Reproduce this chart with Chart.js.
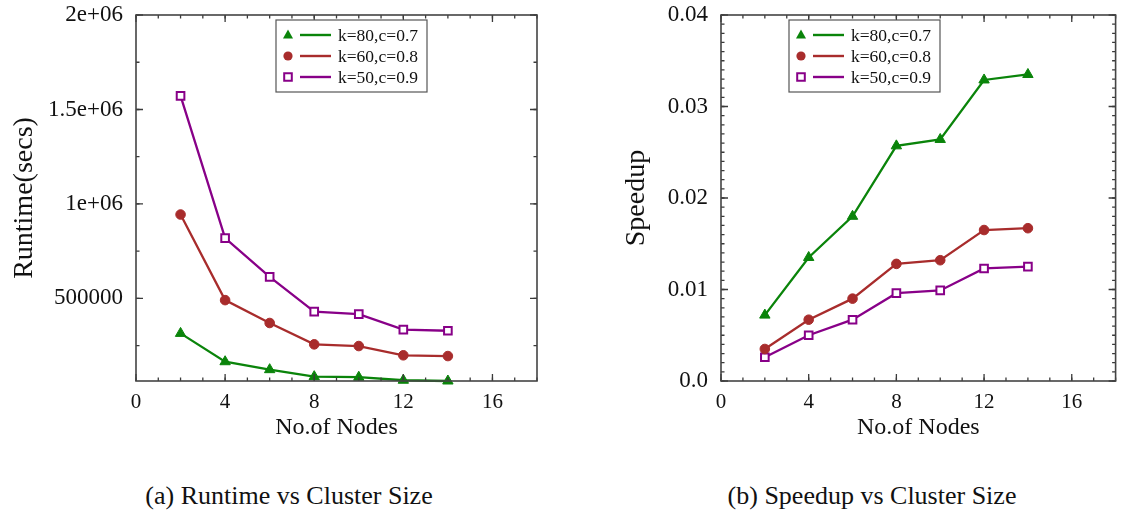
<!DOCTYPE html>
<html>
<head>
<meta charset="utf-8">
<script src="https://cdn.jsdelivr.net/npm/chart.js@4/dist/chart.umd.min.js"></script>
<style>
html, body { margin: 0; padding: 0; background: #fff; }
#page { position: relative; width: 1123px; height: 516px; overflow: hidden; }
.box { position: absolute; top: 0; height: 450px; }
.cap { position: absolute; top: 481px; font: 26px "Liberation Serif", "DejaVu Serif", serif; color: #111; white-space: nowrap; transform: translateX(-50%); }
</style>
</head>
<body>
<div id="page">
  <div class="box" style="left:0;width:561px"><canvas id="chartRuntime"></canvas></div>
  <div class="box" style="left:561px;width:562px"><canvas id="chartSpeedup"></canvas></div>
  <div class="cap" style="left:289px">(a) Runtime vs Cluster Size</div>
  <div class="cap" style="left:872px">(b) Speedup vs Cluster Size</div>
</div>
<script>
// values
const nodes = [2, 4, 6, 8, 10, 12, 14];
const seriesLabels = ['k=80,c=0.7', 'k=60,c=0.8', 'k=50,c=0.9'];

const runtimeK80 = [315000, 165000, 123000, 86000, 83000, 67000, 63000];
const runtimeK60 = [944000, 491000, 370000, 257000, 248000, 199000, 195000];
const runtimeK50 = [1572000, 819000, 614000, 430000, 417000, 335000, 329000];

const speedupK80 = [0.0072, 0.0135, 0.0180, 0.0257, 0.0264, 0.0329, 0.0335];
const speedupK60 = [0.0035, 0.0067, 0.0090, 0.0128, 0.0132, 0.0165, 0.0167];
const speedupK50 = [0.0026, 0.0050, 0.0067, 0.0096, 0.0099, 0.0123, 0.0125];

const xTicks = [0, 4, 8, 12, 16];
const runtimeTicks = [500000, 1000000, 1500000, 2000000];
const runtimeTickLabels = ['500000', '1e+06', '1.5e+06', '2e+06'];
const speedupTicks = [0, 0.01, 0.02, 0.03, 0.04];
const speedupTickLabels = ['0.0', '0.01', '0.02', '0.03', '0.04'];

const SERIF = '"Liberation Serif", "DejaVu Serif", serif';
const colors = ['#0a840a', '#a82c2c', '#880088'];
const styles = ['triangle', 'circle', 'rect'];

function range(a, b, step) {
  const out = [];
  for (let i = 0; a + i * step <= b + step / 1e6; i++) out.push(+(a + i * step).toFixed(6));
  return out;
}

// inward ticks on all four sides + frame, like gnuplot
const framePlugin = {
  id: 'frame',
  afterDatasetsDraw(chart, args, opts) {
    const {ctx, chartArea: a, scales: {x, y}} = chart;
    ctx.save();
    ctx.strokeStyle = '#3a3a3a';
    ctx.lineWidth = 1.3;
    const tick = (vals, len) => {
      vals.forEach(v => {
        const px = x.getPixelForValue(v);
        if (px < a.left - 0.5 || px > a.right + 0.5) return;
        ctx.beginPath();
        ctx.moveTo(px, a.bottom); ctx.lineTo(px, a.bottom - len);
        ctx.moveTo(px, a.top); ctx.lineTo(px, a.top + len);
        ctx.stroke();
      });
    };
    const tickY = (vals, len) => {
      vals.forEach(v => {
        const py = y.getPixelForValue(v);
        if (py < a.top - 0.5 || py > a.bottom + 0.5) return;
        ctx.beginPath();
        ctx.moveTo(a.left, py); ctx.lineTo(a.left + len, py);
        ctx.moveTo(a.right, py); ctx.lineTo(a.right - len, py);
        ctx.stroke();
      });
    };
    tick(opts.xMinor, 3.5);
    tick(x.ticks.map(t => t.value), 7);
    tickY(opts.yMinor, 3.5);
    tickY(y.ticks.map(t => t.value), 7);
    ctx.strokeStyle = '#444';
    ctx.lineWidth = 1.6;
    ctx.strokeRect(a.left, a.top, a.right - a.left, a.bottom - a.top);
    ctx.restore();
  }
};

function drawMarker(ctx, style, cx, cy, color) {
  ctx.fillStyle = color;
  ctx.strokeStyle = color;
  ctx.beginPath();
  if (style === 'triangle') {
    ctx.moveTo(cx, cy - 5.5); ctx.lineTo(cx + 5, cy + 3.5); ctx.lineTo(cx - 5, cy + 3.5);
    ctx.closePath(); ctx.fill();
  } else if (style === 'circle') {
    ctx.arc(cx, cy, 4.6, 0, Math.PI * 2); ctx.fill();
  } else {
    ctx.fillStyle = '#fff';
    ctx.lineWidth = 2;
    ctx.rect(cx - 3.8, cy - 3.8, 7.6, 7.6); ctx.fill(); ctx.stroke();
  }
}

// boxed legend: marker, short line, label
const boxLegend = {
  id: 'boxLegend',
  afterDraw(chart, args, opts) {
    const ctx = chart.ctx;
    const bx = chart.chartArea.left + opts.offsetX, by = chart.chartArea.top + opts.offsetY;
    ctx.save();
    ctx.fillStyle = '#fff';
    ctx.fillRect(bx, by, 151, 72);
    ctx.strokeStyle = '#555';
    ctx.lineWidth = 1.2;
    ctx.strokeRect(bx, by, 151, 72);
    chart.data.datasets.forEach((ds, i) => {
      const ry = by + 15 + i * 21;
      ctx.strokeStyle = ds.borderColor;
      ctx.lineWidth = 2.4;
      ctx.beginPath(); ctx.moveTo(bx + 24, ry); ctx.lineTo(bx + 55, ry); ctx.stroke();
      drawMarker(ctx, styles[i], bx + 12, ry, ds.borderColor);
      ctx.fillStyle = '#111';
      ctx.font = '17.5px ' + SERIF;
      ctx.textBaseline = 'middle';
      ctx.fillText(ds.label, bx + 62, ry + 1);
    });
    ctx.restore();
  }
};

function makeDatasets(arrs) {
  return arrs.map((arr, i) => ({
    label: seriesLabels[i],
    data: nodes.map((n, j) => ({x: n, y: arr[j]})),
    borderColor: colors[i],
    backgroundColor: colors[i],
    borderWidth: 2.3,
    pointStyle: styles[i],
    pointRadius: i === 0 ? 6 : (i === 1 ? 4.8 : 5.4),
    pointBorderWidth: i === 2 ? 2 : 1,
    pointBackgroundColor: i === 2 ? '#fff' : colors[i],
    pointBorderColor: colors[i],
    tension: 0,
    clip: false
  }));
}

function makeChart(id, cfg) {
  return new Chart(document.getElementById(id).getContext('2d'), {
    type: 'line',
    data: {datasets: makeDatasets(cfg.series)},
    options: {
      responsive: true,
      maintainAspectRatio: false,
      animation: false,
      events: [],
      layout: {padding: {left: 0, top: cfg.top, right: cfg.right, bottom: 0}},
      scales: {
        x: {
          type: 'linear', min: 0, max: 18,
          afterBuildTicks: s => { s.ticks = xTicks.map(v => ({value: v})); },
          afterFit: s => { s.height = 450 - 381; s.paddingLeft = 0; s.paddingRight = 0; },
          grid: {display: false, drawTicks: false},
          border: {display: false},
          ticks: {color: '#111', padding: 9, font: {family: SERIF, size: 21}},
          title: {display: true, text: 'No.of Nodes', color: '#111', font: {family: SERIF, size: 24}, padding: {top: 0, bottom: 8}}
        },
        y: {
          type: 'linear', min: cfg.yMin, max: cfg.yMax,
          afterBuildTicks: s => { s.ticks = cfg.yTicks.map(v => ({value: v})); },
          afterFit: s => { s.width = cfg.yWidth; s.paddingTop = 0; s.paddingBottom = 0; },
          grid: {display: false, drawTicks: false},
          border: {display: false},
          ticks: {
            color: '#111', padding: 13, font: {family: SERIF, size: 23},
            callback: v => cfg.yLabels[cfg.yTicks.indexOf(v)]
          },
          title: {display: true, text: cfg.yTitle, color: '#111', font: {family: SERIF, size: 28}, padding: {top: cfg.titlePad, bottom: 0}}
        }
      },
      plugins: {
        legend: {display: false},
        tooltip: {enabled: false},
        frame: {xMinor: range(0, 18, 1), yMinor: cfg.yMinor},
        boxLegend: {offsetX: cfg.legX, offsetY: 5}
      }
    },
    plugins: [framePlugin, boxLegend]
  });
}

makeChart('chartRuntime', {
  series: [runtimeK80, runtimeK60, runtimeK50],
  yMin: 63000, yMax: 2000000,
  yTicks: runtimeTicks, yLabels: runtimeTickLabels,
  yMinor: range(250000, 2000000, 250000),
  yTitle: 'Runtime(secs)', titlePad: 8,
  yWidth: 136, top: 15, right: 24, legX: 140
});

makeChart('chartSpeedup', {
  series: [speedupK80, speedupK60, speedupK50],
  yMin: 0, yMax: 0.04,
  yTicks: speedupTicks, yLabels: speedupTickLabels,
  yMinor: range(0, 0.04, 0.001),
  yTitle: 'Speedup', titlePad: 59,
  yWidth: 160, top: 15, right: 3, legX: 68
});
</script>
</body>
</html>
